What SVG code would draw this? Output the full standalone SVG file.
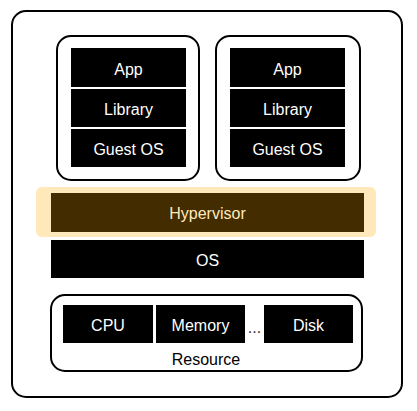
<svg xmlns="http://www.w3.org/2000/svg" width="417" height="411" viewBox="0 0 417 411">
<style>
.frame{fill:#fff;stroke:#000;stroke-width:2}
.blk{fill:#000}
.t{font-family:"Liberation Sans",Arial,sans-serif;font-size:16px;fill:#fff;text-anchor:middle;dominant-baseline:central}
.tb{fill:#000}
</style>
<rect width="417" height="411" fill="#fff"/>
<g id="host"><rect class="frame" x="12" y="11" width="390" height="386" rx="14"/></g>
<g id="vm1">
<rect class="frame" x="57" y="36" width="142" height="144" rx="14"/>
<rect class="blk" x="71" y="48" width="115" height="39"/><text class="t" x="128.5" y="69">App</text>
<rect class="blk" x="71" y="89" width="115" height="38"/><text class="t" x="128.5" y="109">Library</text>
<rect class="blk" x="71" y="129" width="115" height="38"/><text class="t" x="128.5" y="149">Guest OS</text>
</g>
<g id="vm2">
<rect class="frame" x="216" y="36" width="144" height="144" rx="14"/>
<rect class="blk" x="230" y="48" width="115" height="39"/><text class="t" x="287.5" y="69">App</text>
<rect class="blk" x="230" y="89" width="115" height="38"/><text class="t" x="287.5" y="109">Library</text>
<rect class="blk" x="230" y="129" width="115" height="38"/><text class="t" x="287.5" y="149">Guest OS</text>
</g>
<g id="hypervisor">
<rect x="36" y="187" width="340" height="50" rx="6" fill="#ffe9bb"/>
<rect x="51" y="193" width="313" height="39" fill="#422c00"/>
<text class="t" x="207.5" y="213" style="fill:#ffe9bb">Hypervisor</text>
</g>
<g id="os">
<rect class="blk" x="51" y="240" width="313" height="38"/>
<text class="t" x="207.5" y="260">OS</text>
</g>
<g id="resource">
<rect class="frame" x="51" y="295" width="311" height="76" rx="14"/>
<rect class="blk" x="63" y="305" width="90" height="38"/><text class="t" x="108" y="325">CPU</text>
<rect class="blk" x="156" y="305" width="89" height="38"/><text class="t" x="200.5" y="325">Memory</text>
<text class="t" x="254.5" y="327" style="fill:#333">...</text>
<rect class="blk" x="264" y="305" width="89" height="38"/><text class="t" x="308.5" y="325">Disk</text>
<text class="t tb" x="206" y="359">Resource</text>
</g>
<g id="connectors"/>
</svg>
